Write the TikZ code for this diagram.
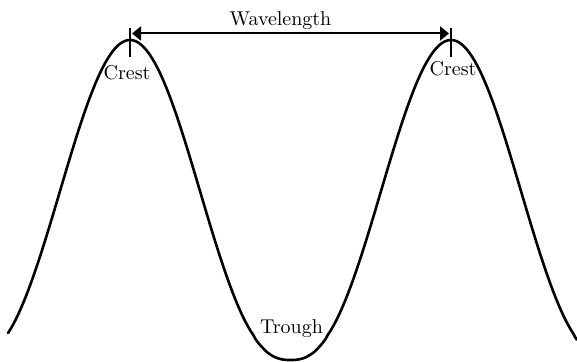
\documentclass[tikz,border=0pt]{standalone}
\usetikzlibrary{arrows.meta}
\tikzset{
  wave/.style={line width=1.3pt,line cap=round},
  crestmark/.style={line width=1pt},
  span/.style={line width=1pt,{Triangle[length=4.5pt,width=7pt]}-{Triangle[length=4.5pt,width=7pt]},shorten <=1pt,shorten >=1pt}
}
\begin{document}
\begin{tikzpicture}[x=0.5pt,y=0.5pt]
\useasboundingbox (0,0) rectangle (577,362);

\draw[wave,domain=8:577,samples=300,smooth]
  plot (\x,{2+320*pow(max((1+cos(1.1215*(\x-130)))/2,0.0001),1.25)});

\coordinate (crest1) at (130,322);
\coordinate (crest2) at (451,322);
\coordinate (wl1) at (130,328.5);
\coordinate (wl2) at (451,328.5);

\draw[crestmark] ([yshift=6pt]crest1) -- ([yshift=-8.5pt]crest1);
\draw[crestmark] ([yshift=6pt]crest2) -- ([yshift=-8.5pt]crest2);
\draw[span] (wl1) -- (wl2);

\node (wavelength) at (280.5,341.5) {Wavelength};
\node (crestlabel1) at (127,289.5) {Crest};
\node (crestlabel2) at (453,293) {Crest};
\node (trough) at (291.5,33.5) {Trough};
\end{tikzpicture}
\end{document}
